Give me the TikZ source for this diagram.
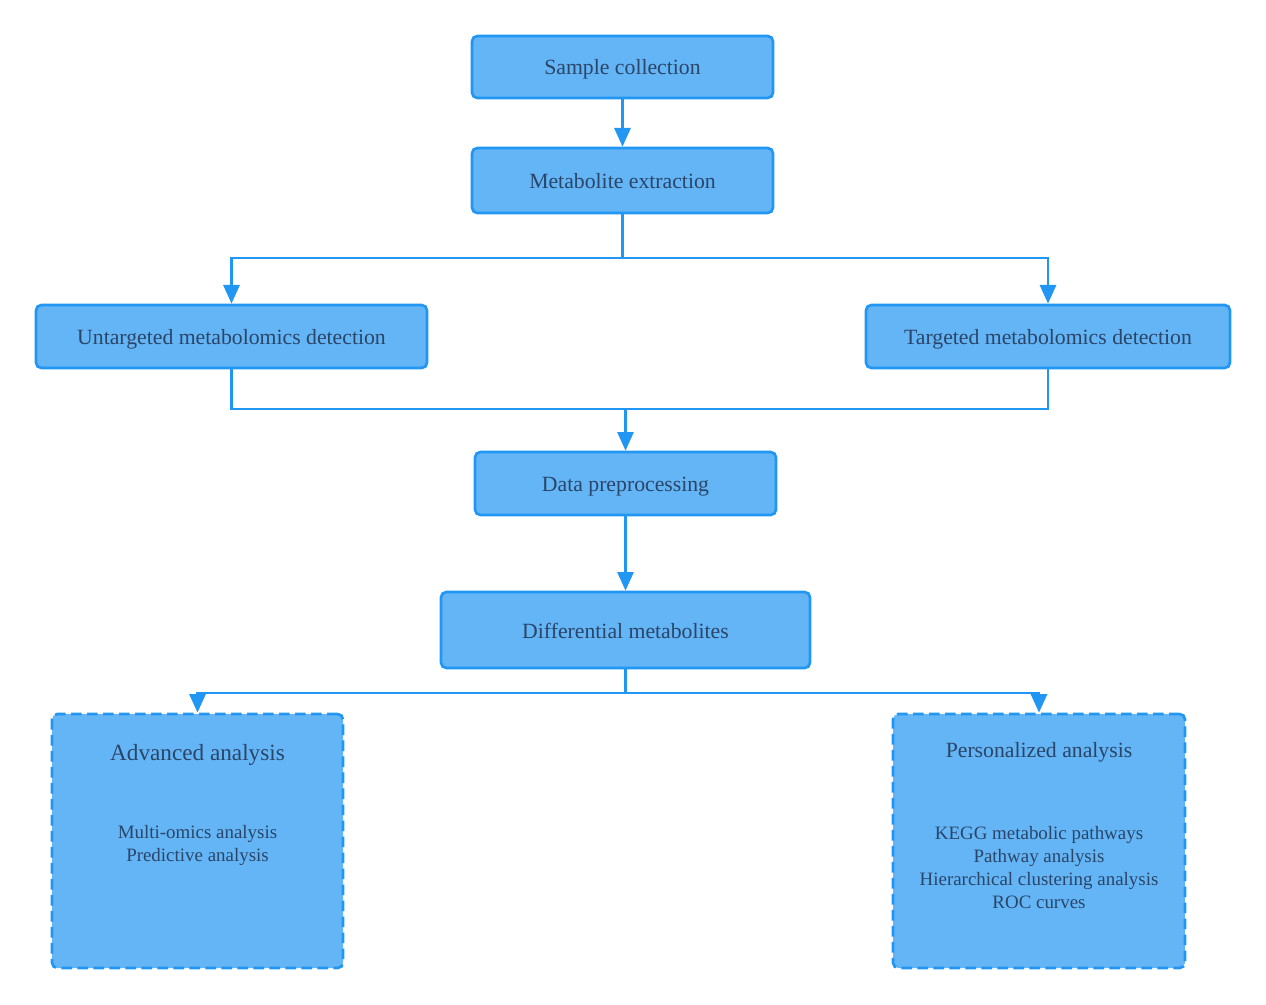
\documentclass[tikz,border=0pt]{standalone}
\usepackage{fontspec}
\setmainfont{Liberation Serif}
\usetikzlibrary{arrows.meta}
\definecolor{boxfill}{HTML}{64B5F6}
\definecolor{boxline}{HTML}{2196F3}
\definecolor{txt}{HTML}{2A4568}
\tikzset{
  stepbox/.style={draw=boxline, fill=boxfill, line width=2pt, rounded corners=4pt,
    text=txt, font=\fontsize{16.3}{19}\selectfont, inner sep=0pt,
    text height=1.2em, text depth=0pt},
  groupbox/.style={draw=boxline, fill=boxfill, line width=2pt, rounded corners=4pt,
    inner sep=0pt, dashed, dash pattern=on 8pt off 4pt},
  conn/.style={draw=boxline, line width=2.2pt},
  arr/.style={conn, -{Triangle[length=14pt,width=12pt]}},
  sub/.style={text=txt, font=\fontsize{14.2}{17.25}\selectfont, align=center, inner sep=0pt},
}
\begin{document}
\begin{tikzpicture}[x=0.75pt,y=-0.75pt]
\useasboundingbox (0,0) rectangle (1266,1005);
\node[stepbox, minimum width=225.75pt, minimum height=46.5pt] (sc) at (622.5,67) {Sample collection};
\node[stepbox, minimum width=225.75pt, minimum height=48.75pt] (me) at (622.5,180.5) {Metabolite extraction};
\node[stepbox, minimum width=293.25pt, minimum height=47.25pt] (ut) at (231.5,336.5) {Untargeted metabolomics detection};
\node[stepbox, minimum width=273pt, minimum height=47.25pt] (tg) at (1048,336.5) {Targeted metabolomics detection};
\node[stepbox, minimum width=225.75pt, minimum height=47.25pt] (dp) at (625.5,483.5) {Data preprocessing};
\node[stepbox, minimum width=276.75pt, minimum height=57pt] (dm) at (625.5,630) {Differential metabolites};
\node[groupbox, minimum width=218.25pt, minimum height=190.5pt] (aa) at (197.5,841) {};
\node[groupbox, minimum width=219pt, minimum height=190.5pt] (pa) at (1039,841) {};
\node[sub, font=\fontsize{17.4}{20}\selectfont] (aat) at (197.5,755) {Advanced analysis};
\node[sub] (aai) at (197.5,845.5) {Multi-omics analysis\\Predictive analysis};
\node[sub, font=\fontsize{16.3}{19}\selectfont] (pat) at (1039,752.5) {Personalized analysis};
\node[sub] (pai) at (1039,868) {KEGG metabolic pathways\\Pathway analysis\\Hierarchical clustering analysis\\ROC curves};
\coordinate (j1) at (622.5,258);
\coordinate (j2) at (625.5,409);
\coordinate (j3) at (625.5,693);
\draw[arr] (sc.south) -- (me.north);
\draw[conn] (me.south) -- (j1);
\draw[arr] (j1) -| (ut.north);
\draw[arr] (j1) -| (tg.north);
\draw[conn] (ut.south) |- (j2);
\draw[conn] (tg.south) |- (j2);
\draw[arr] (j2) -- (dp.north);
\draw[arr] (dp.south) -- (dm.north);
\draw[conn] (dm.south) -- (j3);
\draw[arr] (j3) -| (aa.north);
\draw[arr] (j3) -| (pa.north);
\end{tikzpicture}
\end{document}
